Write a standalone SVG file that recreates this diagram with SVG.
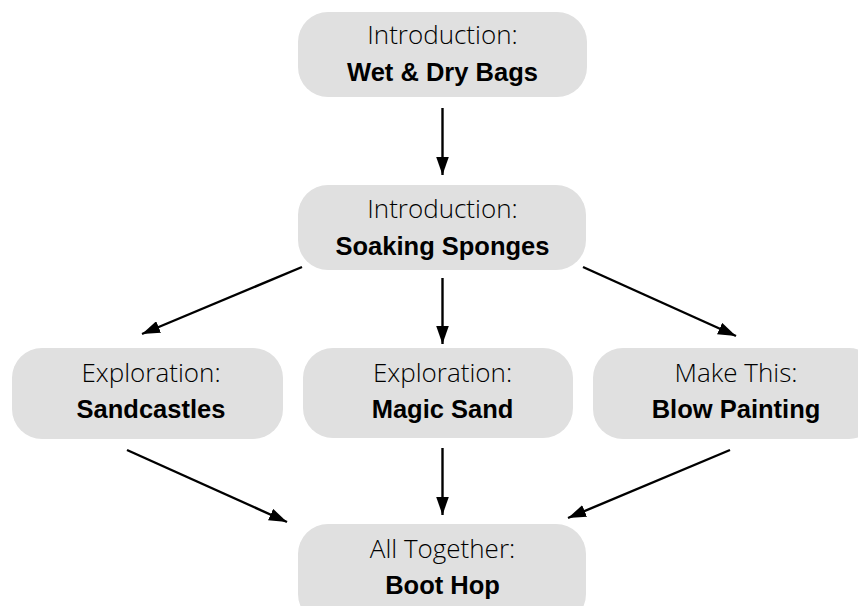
<svg xmlns="http://www.w3.org/2000/svg" width="858" height="606" viewBox="0 0 858 606">
<defs>
<style>
.box{fill:#e0e0e0}
.t1{font-family:"Open Sans","Liberation Sans",sans-serif;font-weight:300;font-size:26px;fill:#000;text-anchor:middle}
.t2{font-family:"Liberation Sans",Arial,sans-serif;font-weight:bold;font-size:25.5px;fill:#000;text-anchor:middle}
.c{stroke:#000;stroke-width:2.4;fill:none;marker-end:url(#ah)}
</style>
<marker id="ah" viewBox="0 0 10 7" refX="10" refY="3.5" markerWidth="7.5" markerHeight="5.25" markerUnits="strokeWidth" orient="auto">
<path d="M0,0 L10,3.5 L0,7 z" fill="#000"/>
</marker>
</defs>
<rect width="858" height="606" fill="#fff"/>
<g id="n1"><rect class="box" x="298" y="12" width="289" height="85" rx="30"/>
<text class="t1" x="442.5" y="44">Introduction:</text><text class="t2" x="442.5" y="81">Wet &amp; Dry Bags</text></g>
<g id="n2"><rect class="box" x="298" y="185" width="288" height="85" rx="30"/>
<text class="t1" x="442.5" y="218">Introduction:</text><text class="t2" x="442.5" y="255">Soaking Sponges</text></g>
<g id="n3"><rect class="box" x="12" y="348" width="271" height="91" rx="30"/>
<text class="t1" x="151" y="382">Exploration:</text><text class="t2" x="151" y="418">Sandcastles</text></g>
<g id="n4"><rect class="box" x="303" y="348" width="270" height="90" rx="30"/>
<text class="t1" x="442.5" y="382">Exploration:</text><text class="t2" x="442.5" y="418">Magic Sand</text></g>
<g id="n5"><rect class="box" x="593" y="348" width="286" height="91" rx="30"/>
<text class="t1" x="736" y="382">Make This:</text><text class="t2" x="736" y="418">Blow Painting</text></g>
<g id="n6"><rect class="box" x="298" y="524" width="288" height="100" rx="30"/>
<text class="t1" x="442.5" y="558">All Together:</text><text class="t2" x="442.5" y="594">Boot Hop</text></g>
<g id="connectors">
<line class="c" x1="442.5" y1="108" x2="442.5" y2="175"/>
<line class="c" x1="442.5" y1="278" x2="442.5" y2="344"/>
<line class="c" x1="302" y1="267" x2="142" y2="334"/>
<line class="c" x1="583" y1="267" x2="736" y2="336"/>
<line class="c" x1="127" y1="450" x2="287" y2="522"/>
<line class="c" x1="442.5" y1="448" x2="442.5" y2="515"/>
<line class="c" x1="730" y1="450" x2="568" y2="518"/>
</g>
</svg>
